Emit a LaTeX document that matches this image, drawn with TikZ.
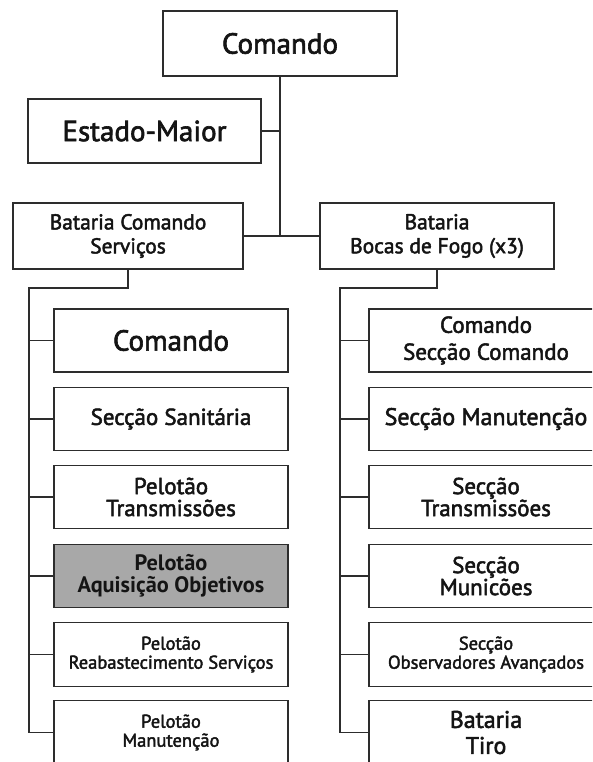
\documentclass[tikz,border=0pt]{standalone}
\usepackage{fontspec}
\setmainfont{PT Sans}
\newfontfamily\semib{PT Sans}[FakeBold=2.2]
\newfontfamily\boldf{PT Sans Bold}
\definecolor{edge}{RGB}{45,45,45}
\definecolor{ink}{RGB}{20,20,20}
\definecolor{hil}{RGB}{168,168,168}
\tikzset{
  orgbox/.style={draw=edge, line width=1.8pt, fill=white, rectangle, inner sep=0pt,
    align=center, text=ink, minimum width=234pt, minimum height=64pt},
  link/.style={draw=edge, line width=1.8pt},
  big/.style={font=\semib\fontsize{29}{30}\selectfont},
  mid/.style={font=\semib\fontsize{23}{22}\selectfont},
  lbl/.style={font=\semib\fontsize{21.5}{24}\selectfont},
  small/.style={font=\semib\fontsize{18.5}{19}\selectfont}
}
\begin{document}
\begin{tikzpicture}[x=1pt,y=-1pt]
\useasboundingbox (0,0) rectangle (592,762);
\clip (0,0) rectangle (592,762);
\fill[white] (0,0) rectangle (592,762);

% top level
\node[orgbox,big,minimum height=65pt] (top) at (280,43.5) {Comando};
\node[orgbox,big,minimum width=233pt] (em) at (144.5,131) {Estado-Maior};
\node[orgbox,lbl,minimum width=230pt,minimum height=66pt] (bcs) at (128,236) {Bataria Comando\\Serviços};
\node[orgbox,lbl,minimum height=66pt] (bbf) at (437,236) {Bataria\\Bocas de Fogo (x3)};

% left column
\node[orgbox,big,minimum height=63pt] (l1) at (171,340.5) {Comando};
\node[orgbox,mid,minimum height=63pt] (l2) at (171,419) {Secção Sanitária};
\node[orgbox,mid,minimum height=63pt] (l3) at (171,497) {Pelotão\\Transmissões};
\node[orgbox,mid,minimum height=63pt,fill=hil,font=\boldf\fontsize{22.3}{22}\selectfont] (l4) at (171,576) {Pelotão\\Aquisição Objetivos};
\node[orgbox,small,minimum height=64pt] (l5) at (171,654.5) {Pelotão\\Reabastecimento Serviços};
\node[orgbox,small,minimum height=64pt] (l6) at (171,732.5) {Pelotão\\Manutenção};

% right column
\node[orgbox,font=\semib\fontsize{23}{27}\selectfont,minimum height=63pt] (r1) at (486,340.5) {Comando\\Secção Comando};
\node[orgbox,font=\semib\fontsize{24}{24}\selectfont,minimum height=63pt] (r2) at (486,419) {Secção Manutenção};
\node[orgbox,mid,minimum height=63pt] (r3) at (486,497) {Secção\\Transmissões};
\node[orgbox,mid,minimum height=63pt] (r4) at (486,576) {Secção\\Municões};
\node[orgbox,small,minimum height=64pt] (r5) at (486,654.5) {Secção\\Observadores Avançados};
\node[orgbox,font=\semib\fontsize{24}{26}\selectfont,minimum height=64pt] (r6) at (486,732.5) {Bataria\\Tiro};

% connectors top
\draw[link] (top.south) -- (top.south |- bcs.east);
\draw[link] (em.east) -- (em.east -| top.south);
\draw[link] (bcs.east) -- (bbf.west);

% left trunk
\coordinate (tl) at (29,288);
\draw[link] (bcs.south) |- (tl) -- (tl |- l6.west);
\foreach \n in {l1,l2,l3,l4,l5,l6} \draw[link] (\n.west) -- (\n.west -| tl);

% right trunk
\coordinate (tr) at (340,288);
\draw[link] (bbf.south) |- (tr) -- (tr |- r6.west);
\foreach \n in {r1,r2,r3,r4,r5,r6} \draw[link] (\n.west) -- (\n.west -| tr);
\end{tikzpicture}
\end{document}
